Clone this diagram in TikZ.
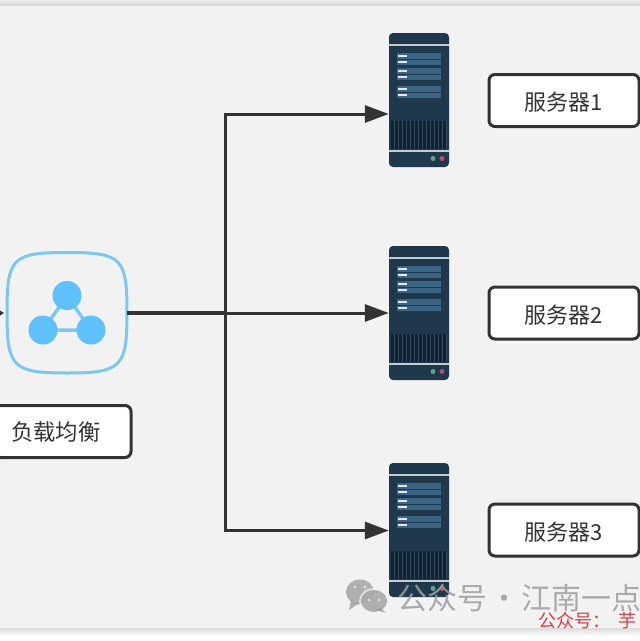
\documentclass[tikz,border=0pt]{standalone}
\usepackage{fontspec}
\setmainfont{Noto Sans CJK SC}
\usetikzlibrary{arrows.meta}
\definecolor{bgc}{HTML}{F2F2F2}
\definecolor{linec}{HTML}{333333}
\definecolor{srv}{HTML}{20384B}
\definecolor{srvrow}{HTML}{3A6585}
\definecolor{srvdark}{HTML}{0E2233}
\definecolor{srvline}{HTML}{C5CCD0}
\definecolor{ledg}{HTML}{5FA38F}
\definecolor{ledr}{HTML}{B0506B}
\definecolor{hubc}{HTML}{7CC8F0}
\definecolor{hubfill}{HTML}{5FC0FA}
\definecolor{redwm}{HTML}{D4404A}
\tikzset{
  labelbox/.style={draw=linec,line width=3pt,fill=white,rounded corners=6pt,minimum height=52pt,inner sep=0pt,font=\fontsize{22}{22}\selectfont,text=black!80},
  srvlabel/.style={labelbox,minimum width=150pt,text height=20pt,text depth=0pt},
  server/.style={fill=srv,rounded corners=4pt,minimum width=60pt,minimum height=134pt,inner sep=0pt},
  conn/.style={draw=linec,line width=3pt},
  flow/.style={conn,-{Triangle[length=24pt,width=17pt]}},
}
\newcommand{\drawserver}[2]{%
  \node[server] (#1) at (419,#2+67) {};
  \begin{scope}[shift={(0,#2-33)}]
    \fill[srvline] (389,44) rectangle (449,46);
    \foreach \ya in {53,68,86}{
      \fill[srvrow] (397,\ya) rectangle (441,\ya+5.5);
      \fill[srvrow] (397,\ya+6.5) rectangle (441,\ya+12);
      \fill[white!85!srvrow] (398,\ya+2) rectangle (407,\ya+3.5);
      \fill[white!85!srvrow] (398,\ya+8) rectangle (407,\ya+9.5);
    }
    \fill[srvdark] (391,121) rectangle (447,149);
    \foreach \xa in {394,398,...,446}{
      \fill[srv!90!white] (\xa-.5,121) rectangle (\xa+.5,149);
    }
    \fill[srvline] (389,150.3) rectangle (449,152);
    \fill[ledg] (433,158.5) circle (2.5);
    \fill[ledr] (442,158.5) circle (2.5);
  \end{scope}
}
\begin{document}
\begin{tikzpicture}[x=1pt,y=-1pt]
\useasboundingbox (0,0) rectangle (640,641);
\clip (0,0) rectangle (640,641);
\fill[white] (0,0) rectangle (640,641);
\fill[bgc] (0,5) rectangle (640,628);
\shade[top color=black!7,bottom color=black!16] (0,0) rectangle (640,5);
\shade[top color=black!14,bottom color=white] (0,628) rectangle (640,636);

% hub
\node[minimum width=120pt,minimum height=121pt,inner sep=0pt] (hub) at (67,313) {};
\draw[hubc,line width=3pt,fill=bgc] (67,252.5)
  .. controls (122,252.5) and (127,258) .. (127,312.5)
  .. controls (127,367) and (122,373) .. (67,373)
  .. controls (12,373) and (7,367) .. (7,312.5)
  .. controls (7,258) and (12,252.5) .. (67,252.5) -- cycle;
\draw[hubc,line width=3.5pt] (67,296) -- (43,330) -- (91,330) -- cycle;
\fill[hubfill] (67,295.5) circle (14.5) (43,330) circle (14.5) (91,330) circle (14.5);
\fill[linec] (0,310.5) -- (4,313) -- (0,315.5) -- cycle;

% servers
\drawserver{s1}{33}
\drawserver{s2}{246}
\drawserver{s3}{463}

% boxes
\node[srvlabel] (b1) at (564,100.5) {服务器1};
\node[srvlabel] (b2) at (564,313) {服务器2};
\node[srvlabel] (b3) at (564,530) {服务器3};
\node[labelbox,minimum width=136pt] (lb) at (63,431.5) {\hspace*{-14pt}\fontsize{22.4}{22.4}\selectfont 负载均衡};

% connectors
\coordinate (junc) at (225,313);
\coordinate (t1) at ([yshift=-14pt]s1.west);
\coordinate (t3) at ([yshift=-.5pt]s3.west);
\draw[conn,line width=4.6pt] (hub.east) -- (junc);
\draw[flow] (junc) |- (t1);
\draw[flow] (junc) -- (s2.west);
\draw[flow] (junc) |- (t3);

% watermark
\begin{scope}[opacity=.7]
\fill[gray!85] (360,592) ellipse (14 and 12.5);
\fill[gray!85] (351,601) -- (349,610) -- (358,604) -- cycle;
\fill[bgc] (374,601) ellipse (15 and 13);
\fill[gray!85] (374,601) ellipse (13 and 11);
\fill[gray!85] (381,608) -- (386,613) -- (376,610) -- cycle;
\fill[bgc] (355,587) circle (1.6) (365,587) circle (1.6) (369,600) circle (1.6) (379,600) circle (1.6);
\end{scope}
\node[inner sep=0pt,anchor=west,text=black!38,opacity=.85,font=\fontsize{30}{30}\selectfont] (wm) at (397,598) {公众号\hspace{.07em}·\hspace{.07em}江南一点};
\node[inner sep=0pt,anchor=west,text=redwm,font=\fontsize{18}{18}\selectfont] (rd) at (538,621) {公众号：\hspace{.45em}芋};
\end{tikzpicture}
\end{document}
